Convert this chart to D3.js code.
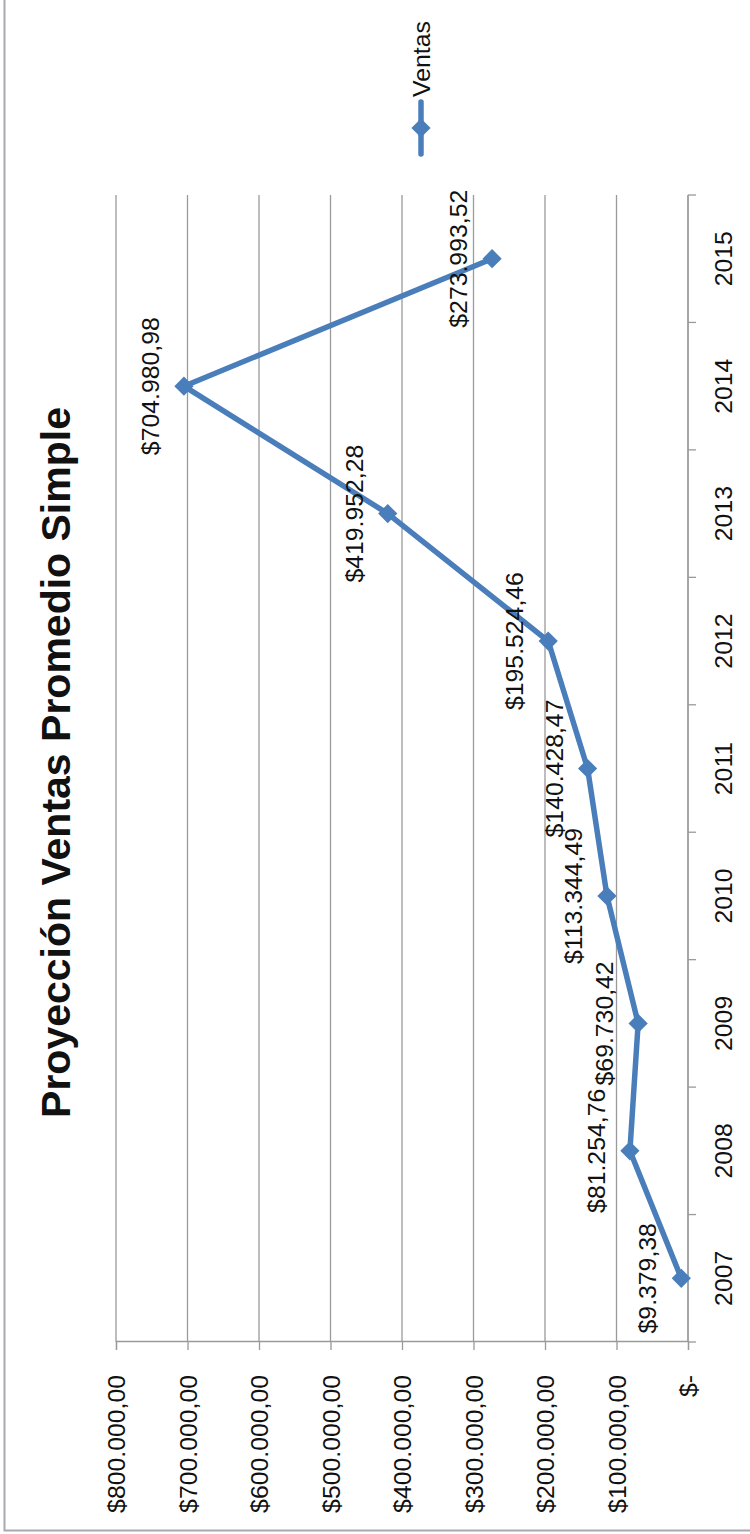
<!DOCTYPE html>
<html><head><meta charset="utf-8">
<script src="https://cdn.jsdelivr.net/npm/d3@7"></script>
<style>body{margin:0;background:#fff}</style>
</head><body>
<svg id="c" width="750" height="1534"></svg>
<script>
const years = ["2007","2008","2009","2010","2011","2012","2013","2014","2015"];
const ventas = [9379.38, 81254.76, 69730.42, 113344.49, 140428.47, 195524.46, 419952.28, 704980.98, 273993.52];
const valueTicks = [0,100000,200000,300000,400000,500000,600000,700000,800000];
const chartTitle = "Proyección Ventas Promedio Simple";
const seriesName = "Ventas";

const W = 1534; // unrotated width
const FONT = "'Liberation Sans', Arial, sans-serif";
const FS = 24.8;
const BLUE = "#4A7EBB";
const GRID = "#9a9a9a";

const loc = d3.formatLocale({decimal: ",", thousands: ".", grouping: [3], currency: ["$", ""]});
const fmtBase = loc.format("$,.2f");
const fmt = v => v === 0 ? "$-" : fmtBase(v);

const svg = d3.select("#c");

// outer border (screen coords)
svg.append("path")
  .attr("d", "M4.5,0 L4.5,1530.5 L750,1530.5")
  .attr("fill", "none").attr("stroke", "#a9a9b0").attr("stroke-width", 2);

// chart drawn in unrotated frame, rotated -90deg
const g = svg.append("g").attr("transform", `translate(0,${W}) rotate(-90)`)
  .style("font-family", FONT);

const x = d3.scaleBand().domain(years).range([192, 1339]);
const cx = d => x(d) + x.bandwidth() / 2;
const y = d3.scaleLinear().domain([0, 800000]).range([688, 116]);

// gridlines
g.append("g").selectAll("line").data(valueTicks).join("line")
  .attr("x1", 192).attr("x2", 1339)
  .attr("y1", d => y(d)).attr("y2", d => y(d))
  .attr("stroke", GRID).attr("stroke-width", 1.3);

// value axis
const ya = g.append("g").attr("transform", "translate(192,0)")
  .call(d3.axisLeft(y).tickValues(valueTicks).tickFormat(fmt).tickSize(8).tickPadding(25));
ya.select(".domain").attr("stroke", GRID).attr("stroke-width", 1.3);
ya.selectAll(".tick line").attr("stroke", GRID).attr("stroke-width", 1.3);
ya.selectAll(".tick text").attr("dy", "0.36em")
  .style("font-family", FONT).style("font-size", FS + "px").attr("fill", "#111");

// category axis
const xa = g.append("g").attr("transform", `translate(0,${y(0)})`);
xa.append("line").attr("x1", 192).attr("x2", 1339).attr("y1", 0).attr("y2", 0)
  .attr("stroke", GRID).attr("stroke-width", 1.3);
const bounds = years.map(d => x(d)).concat([x(years[years.length - 1]) + x.bandwidth()]);
xa.selectAll("line.tk").data(bounds).join("line").attr("class", "tk")
  .attr("x1", d => d).attr("x2", d => d).attr("y1", 0).attr("y2", 8)
  .attr("stroke", GRID).attr("stroke-width", 1.3);
xa.selectAll("text").data(years).join("text")
  .attr("x", d => cx(d)).attr("y", 44)
  .attr("text-anchor", "middle")
  .style("font-size", FS + "px").attr("fill", "#111")
  .text(d => d);

// line
const data = years.map((d, i) => ({year: d, v: ventas[i]}));
g.append("path").datum(data)
  .attr("d", d3.line().x(d => cx(d.year)).y(d => y(d.v)))
  .attr("fill", "none").attr("stroke", BLUE).attr("stroke-width", 5.5)
  .attr("stroke-linejoin", "round").attr("stroke-linecap", "round");

// markers
const diamond = d3.symbol().type(d3.symbolSquare).size(185);
g.append("g").selectAll("path").data(data).join("path")
  .attr("d", diamond)
  .attr("transform", d => `translate(${cx(d.year)},${y(d.v)}) rotate(45)`)
  .attr("fill", BLUE);

// data labels
g.append("g").selectAll("text").data(data).join("text")
  .attr("x", d => cx(d.year)).attr("y", d => y(d.v) - 25)
  .attr("text-anchor", "middle")
  .style("font-size", FS + "px").attr("fill", "#111")
  .text(d => fmt(d.v));

// title
g.append("text")
  .attr("x", 771.5).attr("y", 70)
  .attr("text-anchor", "middle")
  .style("font-size", "41px").style("font-weight", "bold").attr("fill", "#111")
  .text(chartTitle);

// legend
const lg = g.append("g");
lg.append("line").attr("x1", 1380).attr("x2", 1432).attr("y1", 421).attr("y2", 421)
  .attr("stroke", BLUE).attr("stroke-width", 5.5).attr("stroke-linecap", "round");
lg.append("path").attr("d", diamond)
  .attr("transform", "translate(1406,421) rotate(45)").attr("fill", BLUE);
lg.append("text").attr("x", 1437).attr("y", 430)
  .style("font-size", FS + "px").attr("fill", "#111")
  .text(seriesName);
</script>
</body></html>
